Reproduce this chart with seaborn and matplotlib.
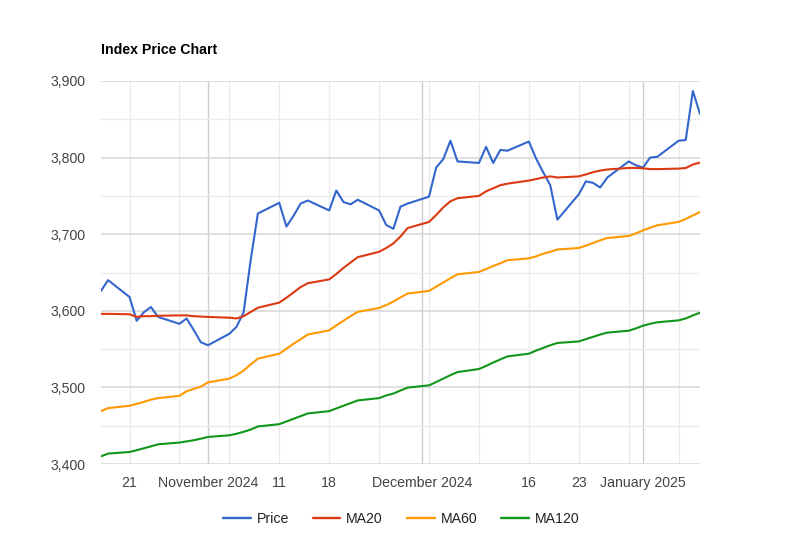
import pandas as pd
import numpy as np
import seaborn as sns
import matplotlib.pyplot as plt

# trading days shown on the chart
dates = ['2024-10-17', '2024-10-18',
         '2024-10-21', '2024-10-22', '2024-10-23', '2024-10-24', '2024-10-25',
         '2024-10-28', '2024-10-29', '2024-10-30', '2024-10-31', '2024-11-01',
         '2024-11-04', '2024-11-05', '2024-11-06', '2024-11-07', '2024-11-08',
         '2024-11-11', '2024-11-12', '2024-11-13', '2024-11-14', '2024-11-15',
         '2024-11-18', '2024-11-19', '2024-11-20', '2024-11-21', '2024-11-22',
         '2024-11-25', '2024-11-26', '2024-11-27', '2024-11-28', '2024-11-29',
         '2024-12-02', '2024-12-03', '2024-12-04', '2024-12-05', '2024-12-06',
         '2024-12-09', '2024-12-10', '2024-12-11', '2024-12-12', '2024-12-13',
         '2024-12-16', '2024-12-17', '2024-12-18', '2024-12-19', '2024-12-20',
         '2024-12-23', '2024-12-24', '2024-12-25', '2024-12-26', '2024-12-27',
         '2024-12-30', '2024-12-31', '2025-01-01', '2025-01-02', '2025-01-03',
         '2025-01-06', '2025-01-07', '2025-01-08', '2025-01-09']

price = [3626, 3640,
         3618, 3587, 3598, 3605, 3592,
         3583, 3590, 3575, 3559, 3555,
         3570, 3579, 3598, 3667, 3727,
         3741, 3710, 3724, 3740, 3744,
         3731, 3757, 3742, 3739, 3745,
         3731, 3712, 3707, 3736, 3740,
         3749, 3787, 3798, 3822, 3795,
         3793, 3814, 3793, 3810, 3809,
         3821, 3799, 3781, 3764, 3719,
         3752, 3769, 3767, 3761, 3774,
         3795, 3790, 3787, 3800, 3801,
         3822, 3823, 3887, 3857]

ma20 = [3596, 3596,
        3595.5, 3592, 3593, 3593, 3593.5,
        3594, 3594, 3593, 3592.5, 3592,
        3591, 3590, 3593, 3598.5, 3604,
        3610.7, 3617, 3624, 3631, 3636,
        3641, 3648, 3656, 3663, 3670,
        3677, 3682, 3688, 3697, 3708,
        3716, 3725, 3735, 3743, 3747,
        3750, 3756, 3760, 3764, 3766,
        3770, 3772, 3774, 3775.5, 3774,
        3775.5, 3778, 3781, 3783, 3784.5,
        3786.5, 3786.5, 3786, 3785, 3785,
        3785.6, 3786.4, 3791, 3793.5]

ma60 = [3469, 3473,
        3476, 3478.5, 3481, 3484, 3486,
        3489, 3495, 3498, 3501, 3506.5,
        3511.5, 3516, 3522, 3530, 3537.5,
        3544, 3550.5, 3557, 3563, 3569,
        3574.5, 3581, 3587, 3593, 3598.6,
        3603.7, 3607.5, 3612, 3617.5, 3622.5,
        3626, 3631.5, 3637, 3642.5, 3647.7,
        3650.7, 3654.5, 3658.5, 3662, 3666,
        3668.5, 3671, 3674.5, 3677, 3680,
        3682, 3685, 3688.5, 3692, 3695,
        3697.7, 3701, 3705, 3708.5, 3711.6,
        3716, 3720, 3724.5, 3729]

ma120 = [3410, 3413.6,
         3415.7, 3418, 3420.5, 3423, 3425.7,
         3428, 3429.5, 3431, 3433, 3435.3,
         3437.5, 3439.5, 3442, 3445, 3449,
         3452, 3455.5, 3459, 3462.5, 3466,
         3469, 3472.5, 3476, 3479.5, 3483,
         3486, 3489.5, 3492, 3496, 3499.7,
         3502.7, 3507, 3511.5, 3516, 3520,
         3524, 3528, 3532.5, 3536.5, 3540.5,
         3544, 3548, 3551.5, 3555, 3558,
         3560, 3563, 3566, 3569, 3571.5,
         3574, 3577, 3580.5, 3583, 3585,
         3587.5, 3590, 3594, 3597.5]

series_names = ['Price', 'MA20', 'MA60', 'MA120']
series_colors = ['#3366cc', '#dc3912', '#ff9900', '#109618']

tick_dates = ['2024-10-21', '2024-11-01', '2024-11-11', '2024-11-18',
              '2024-12-01', '2024-12-16', '2024-12-23', '2025-01-01']
tick_labels = ['21', 'November 2024', '11', '18',
               'December 2024', '16', '23', 'January 2025']
week_lines = ['2024-10-21', '2024-10-28', '2024-11-04', '2024-11-11', '2024-11-18',
              '2024-11-25', '2024-12-02', '2024-12-09', '2024-12-16', '2024-12-23',
              '2024-12-30', '2025-01-06']
month_lines = ['2024-11-01', '2024-12-01', '2025-01-01']

df = pd.DataFrame({'date': pd.to_datetime(dates), 'Price': price,
                   'MA20': ma20, 'MA60': ma60, 'MA120': ma120})
long_df = df.melt(id_vars='date', var_name='series', value_name='value')

sns.set_style('white')
plt.rcParams['font.family'] = ['Liberation Sans', 'DejaVu Sans']
fs = 10.2

fig = plt.figure(figsize=(8, 5.48), dpi=100)
ax = fig.add_axes([101/800, 1 - 464/548, 599/800, 383/548])

# grid
ax.set_ylim(3400, 3900)
ax.set_yticks(np.arange(3400, 3901, 100))
ax.set_yticks(np.arange(3450, 3900, 100), minor=True)
ax.grid(which='major', axis='y', color='#d6d6d6', linewidth=1.1, zorder=0)
ax.grid(which='minor', axis='y', color='#ebebeb', linewidth=1.0, zorder=0)
ax.vlines(pd.to_datetime(week_lines), 3400, 3900, color='#ebebeb', linewidth=1.0, zorder=0)
ax.vlines(pd.to_datetime(month_lines), 3400, 3900, color='#cccccc', linewidth=1.0, zorder=0)

sns.lineplot(data=long_df, x='date', y='value', hue='series', hue_order=series_names,
             palette=series_colors, linewidth=1.5, sort=False, ax=ax, legend=False,
             zorder=3)

ax.set_xlim(df['date'].iloc[0], df['date'].iloc[-1])
ax.set_xticks(pd.to_datetime(tick_dates))
ax.set_xticklabels(tick_labels)
ax.yaxis.set_major_formatter(plt.FuncFormatter(lambda v, p: f'{v:,.0f}'))
ax.tick_params(axis='both', which='both', length=0, labelsize=fs, colors='#444444')
ax.tick_params(axis='y', pad=10.8)
ax.tick_params(axis='x', pad=8.5)
ax.set_xlabel('')
ax.set_ylabel('')
for s in ax.spines.values():
    s.set_visible(False)

fig.text(101/800, 1 - 50/548, 'Index Price Chart', fontsize=fs, fontweight='bold',
         va='center', ha='left', color='#000000')

handles = [plt.Line2D([], [], color=c, linewidth=1.7) for c in series_colors]
fig.legend(handles, series_names, loc='center', bbox_to_anchor=(401/800, 1 - 519/548),
           ncol=4, frameon=False, fontsize=fs, handlelength=1.96, handletextpad=0.42,
           columnspacing=1.68, labelcolor='#222222')

fig.savefig('out.png', dpi=100)
